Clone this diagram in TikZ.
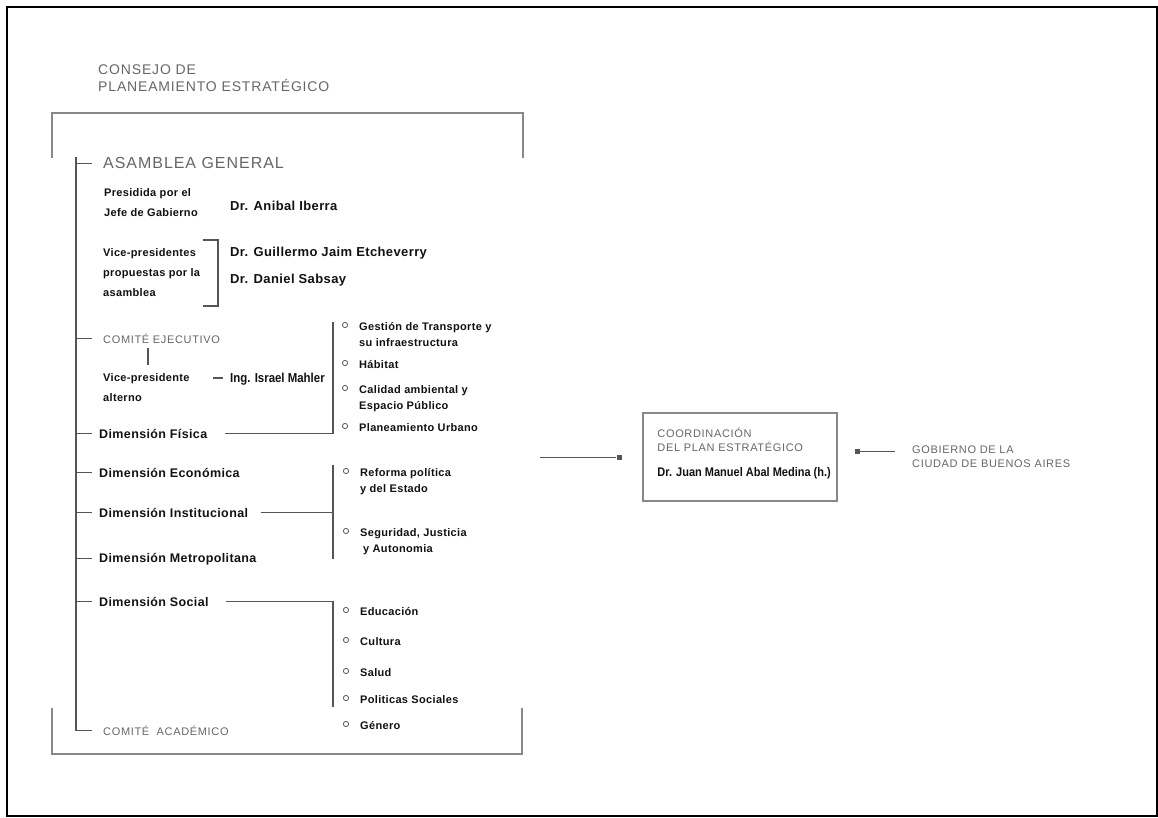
\documentclass[tikz,border=0pt]{standalone}
\usepackage{fontspec}
\setmainfont{Liberation Sans}
\newfontfamily\grisfam[LetterSpace=6]{Liberation Sans}
\newfontfamily\negrofam[LetterSpace=3]{Liberation Sans}
\newfontfamily\estrechafam[FakeStretch=0.88]{Liberation Sans}
\usetikzlibrary{calc}
\definecolor{grisTexto}{HTML}{666666}
\definecolor{negroTexto}{HTML}{111111}
\definecolor{grisLinea}{HTML}{555555}
\definecolor{grisMarco}{HTML}{888888}
\begin{document}
\begin{tikzpicture}[x=1pt,y=-1pt]
	\tikzset{
		titulo/.style={inner sep=0pt,anchor=north west,align=left,text=grisTexto,font=\grisfam\fontsize{11}{14}\selectfont},
		nombre/.style={inner sep=0pt,anchor=base west,text=negroTexto,font=\negrofam\bfseries\fontsize{13}{16}\selectfont},
		nota/.style={inner sep=0pt,anchor=north west,align=left,text=negroTexto,font=\negrofam\bfseries\fontsize{11}{20}\selectfont},
		dimension/.style={inner sep=0pt,anchor=base west,text=negroTexto,font=\negrofam\bfseries\fontsize{12.5}{15}\selectfont},
		tema/.style={inner sep=0pt,anchor=north west,align=left,text=negroTexto,font=\negrofam\bfseries\fontsize{11}{16}\selectfont},
		linea/.style={draw=grisLinea,line width=1.2pt},
		marco/.style={draw=grisMarco,line width=2pt},
		vineta/.style={draw=grisLinea,line width=0.8pt},
		punto/.style={fill=grisLinea,inner sep=0pt,minimum size=5pt},
	}
	\useasboundingbox (0,0) rectangle (1158,818);
	\draw[line width=2pt] (7,7) rectangle (1157,816);

	% consejo
	\node[titulo,font=\grisfam\fontsize{14}{17}\selectfont] (consejo) at (98,65) {CONSEJO DE\\PLANEAMIENTO ESTRATÉGICO};
	\draw[marco] (52,158) -- (52,113) -- (523,113) -- (523,158);
	\draw[marco] (52,708) -- (52,754) -- (522,754) -- (522,708);

	% asamblea general
	\node[titulo,anchor=base west,font=\grisfam\fontsize{16}{19}\selectfont] (asamblea) at (103,169) {ASAMBLEA GENERAL};
	\node[nota] (presidida) at (104,188) {Presidida por el\\Jefe de Gabierno};
	\node[nombre] (iberra) at (230,211) {Dr. Anibal Iberra};
	\node[nota] (vices) at (103,248) {Vice-presidentes\\propuestas por la\\asamblea};
	\node[nombre] (jaim) at (230,257) {Dr. Guillermo Jaim Etcheverry};
	\node[nombre] (sabsay) at (230,283) {Dr. Daniel Sabsay};
	\draw[linea] (203,240) -- (218,240) -- (218,306) -- (203,306);

	% comite ejecutivo
	\node[titulo,anchor=base west] (ejecutivo) at (103,343) {COMITÉ EJECUTIVO};
	\node[nota] (alterno) at (103,373) {Vice-presidente\\alterno};
	\node[nombre,font=\estrechafam\bfseries\fontsize{13}{16}\selectfont] (mahler) at (230,382) {Ing. Israel Mahler};
	\draw[linea] ($(ejecutivo.south west)+(45,5)$) -- ($(alterno.north west)+(45,-8)$);
	\draw[linea] ($(mahler.base west)+(-17,-4)$) -- ($(mahler.base west)+(-7,-4)$);

	% dimensiones
	\node[dimension] (fisica) at (99,438) {Dimensión Física};
	\node[dimension] (economica) at (99,477) {Dimensión Económica};
	\node[dimension] (institucional) at (99,517) {Dimensión Institucional};
	\node[dimension] (metropolitana) at (99,562) {Dimensión Metropolitana};
	\node[dimension] (social) at (99,606) {Dimensión Social};
	\node[titulo,anchor=base west] (academico) at (103,735) {COMITÉ\ \ ACADÉMICO};

	\coordinate (tronco) at (76,157);
	\draw[linea] (tronco) -- (tronco |- academico.west) -- ++(16,0);
	\foreach \n in {asamblea,ejecutivo,fisica,economica,institucional,metropolitana,social}
		\draw[linea] (tronco |- \n.west) -- ++(16,0);

	% temas
	\node[tema] (gestion) at (359,322) {Gestión de Transporte y\\su infraestructura};
	\node[tema] (habitat) at (359,360) {Hábitat};
	\node[tema] (calidad) at (359,385) {Calidad ambiental y\\Espacio Público};
	\node[tema] (planeamiento) at (359,423) {Planeamiento Urbano};
	\node[tema] (reforma) at (360,468) {Reforma política\\y del Estado};
	\node[tema] (seguridad) at (360,528) {Seguridad, Justicia\\\hspace{3pt}y Autonomia};
	\node[tema] (educacion) at (360,607) {Educación};
	\node[tema] (cultura) at (360,637) {Cultura};
	\node[tema] (salud) at (360,668) {Salud};
	\node[tema] (politicas) at (360,695) {Politicas Sociales};
	\node[tema] (genero) at (360,721) {Género};
	\foreach \t in {gestion,habitat,calidad,planeamiento,reforma,seguridad,educacion,cultura,salud,politicas,genero}
		\draw[vineta] ($(\t.north west)+(-14,3)$) circle (2.6pt);

	\coordinate (llaveF) at (333,322);
	\draw[linea] ([xshift=18pt]fisica.east) -- (llaveF |- fisica.east) -- (llaveF);
	\coordinate (llaveI) at (333,465);
	\draw[linea] (llaveI) -- (333,559);
	\draw[linea] ([xshift=13pt]institucional.east) -- (llaveI |- institucional.east);
	\coordinate (llaveS) at (333,707);
	\draw[linea] ([xshift=17pt]social.east) -- (llaveS |- social.east) -- (llaveS);

	% coordinacion
	\node[draw=grisMarco,line width=1.5pt,minimum width=194pt,minimum height=88pt,inner sep=0pt] (coordinacion) at (740,457) {};
	\node[titulo] (coordtitulo) at ($(coordinacion.north west)+(15,16)$) {COORDINACIÓN\\DEL PLAN ESTRATÉGICO};
	\node[nombre,font=\estrechafam\bfseries\fontsize{12.5}{15}\selectfont] (medina) at ($(coordinacion.north west)+(15,64)$) {Dr. Juan Manuel Abal Medina (h.)};
	\coordinate (salida) at (540,457);
	\node[punto] (puntoI) at (619,457) {};
	\draw[linea,line width=1pt] (salida) -- (puntoI);
	\node[punto] (puntoD) at (857,451) {};
	\node[titulo] (gobierno) at (912,446) {GOBIERNO DE LA\\CIUDAD DE BUENOS AIRES};
	\draw[linea,line width=1pt] (puntoD) -- ++(38,0);
\end{tikzpicture}
\end{document}
